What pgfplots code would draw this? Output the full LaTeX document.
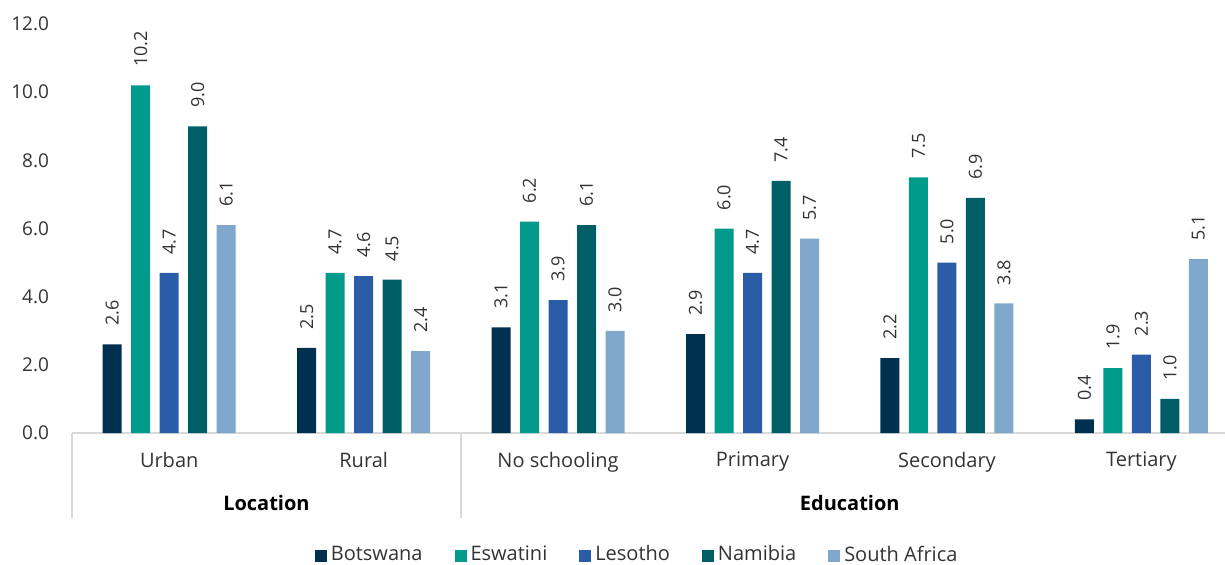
\documentclass[border=0pt]{standalone}
\usepackage{pgfplots}
\pgfplotsset{compat=1.18}
\usepackage{fontspec}
\setmainfont{Open Sans}
\definecolor{cBot}{HTML}{00304F}
\definecolor{cEsw}{HTML}{009B8A}
\definecolor{cLes}{HTML}{2B5CA8}
\definecolor{cNam}{HTML}{005F66}
\definecolor{cSA}{HTML}{7FA8CC}
\definecolor{gridgray}{HTML}{D9D9D9}
\definecolor{txt}{HTML}{333333}
\begin{document}
\begin{tikzpicture}
\useasboundingbox (0,0) rectangle (612.5pt,282pt);
\begin{axis}[
  at={(36pt,65.5pt)}, anchor=south west,
  scale only axis,
  width=576.5pt, height=204.5pt,
  xmin=-0.5, xmax=5.43,
  ymin=0, ymax=12,
  ytick={0,2,4,6,8,10,12},
  xtick={0,1,2,3,4,5},
  xticklabels={Urban,Rural,No schooling,Primary,Secondary,Tertiary},
  ybar=4.75pt, bar width=9.5pt,
  axis x line*=bottom, axis y line*=left,
  x axis line style={draw=gridgray, line width=1pt},
  y axis line style={draw=none},
  major tick length=0pt,
  tick style={draw=none},
  clip=false,
  yticklabel style={font=\fontsize{9.5}{11}\selectfont, text=txt, xshift=-8pt},
  xticklabel style={font=\fontsize{10}{12}\selectfont, text=txt, yshift=-6pt},
  /pgf/number format/.cd, fixed, fixed zerofill, precision=1, assume math mode=true,
  /pgfplots/.cd,
  nodes near coords,
  nodes near coords style={font=\fontsize{9}{11}\selectfont, text=txt, rotate=90, anchor=west, inner xsep=9pt, inner ysep=0pt,
    /pgf/number format/.cd, fixed, fixed zerofill, precision=1, assume math mode=true},
  legend columns=5,
  legend style={at={(rel axis cs:0.491,-0.298)}, anchor=center, draw=none, fill=none,
    font=\fontsize{10}{12}\selectfont, text=txt,
    /tikz/every even column/.append style={column sep=14pt},
    /tikz/every odd column/.append style={column sep=0pt}},
  legend image code/.code={\fill[#1] (0pt,-3.8pt) rectangle (6pt,2.2pt);},
]
\addplot[fill=cBot, draw=none] coordinates {(0,2.6) (1,2.5) (2,3.1) (3,2.9) (4,2.2) (5,0.4)};
\addplot[fill=cEsw, draw=none] coordinates {(0,10.2) (1,4.7) (2,6.2) (3,6.0) (4,7.5) (5,1.9)};
\addplot[fill=cLes, draw=none] coordinates {(0,4.7) (1,4.6) (2,3.9) (3,4.7) (4,5.0) (5,2.3)};
\addplot[fill=cNam, draw=none] coordinates {(0,9.0) (1,4.5) (2,6.1) (3,7.4) (4,6.9) (5,1.0)};
\addplot[fill=cSA, draw=none] coordinates {(0,6.1) (1,2.4) (2,3.0) (3,5.7) (4,3.8) (5,5.1)};
\legend{Botswana,Eswatini,Lesotho,Namibia,South Africa}
\draw[gridgray, line width=1pt] (axis cs:-0.5,0) -- ([yshift=-42.5pt]axis cs:-0.5,0);
\draw[gridgray, line width=1pt] (axis cs:1.5,0) -- ([yshift=-42.5pt]axis cs:1.5,0);
\node[font=\fontsize{10}{12}\selectfont\bfseries, text=black, anchor=center] at ([yshift=-35pt]axis cs:0.5,0) {Location};
\node[font=\fontsize{10}{12}\selectfont\bfseries, text=black, anchor=center] at ([yshift=-35pt]axis cs:3.5,0) {Education};
\end{axis}
\end{tikzpicture}
\end{document}
